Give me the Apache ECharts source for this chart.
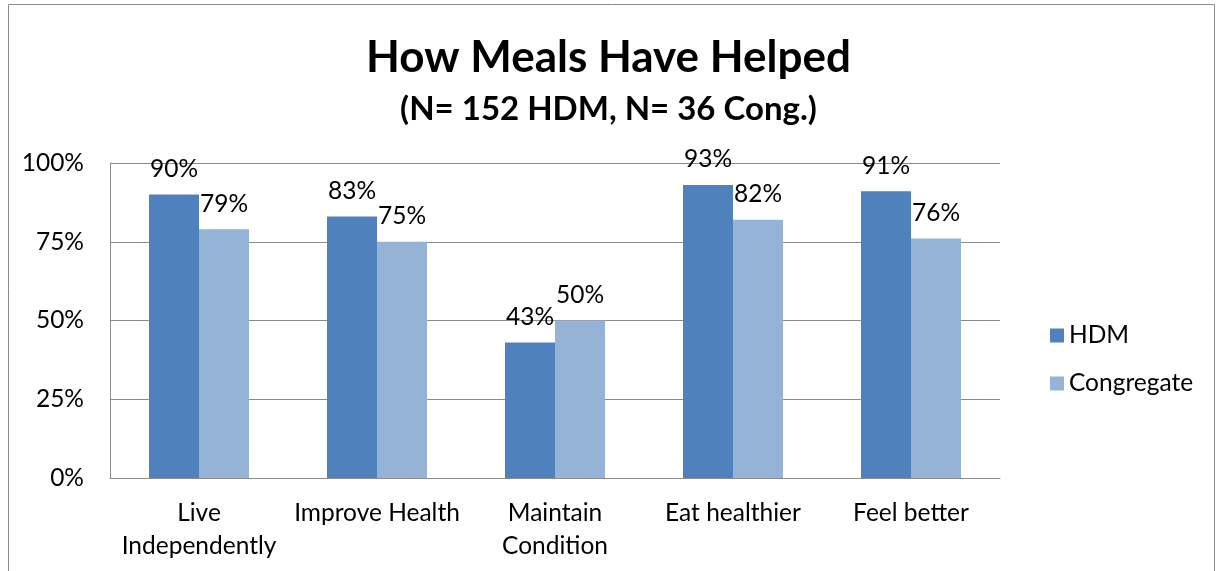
<!DOCTYPE html>
<html>
<head>
<meta charset="utf-8">
<title>How Meals Have Helped</title>
<script src="https://cdn.jsdelivr.net/npm/echarts@6/dist/echarts.min.js"></script>
<style>
  html, body { margin: 0; padding: 0; background: #fff; }
  #chart { width: 1217px; height: 571px; }
</style>
</head>
<body>
<div id="chart"></div>
<script>
// categories and series values (percent)
const categories = ['Live\nIndependently', 'Improve Health', 'Maintain\nCondition', 'Eat healthier', 'Feel better'];
const hdmValues = [90, 83, 43, 93, 91];
const congValues = [79, 75, 50, 82, 76];
const yTicks = [0, 25, 50, 75, 100];

const fontName = 'Lato, "Liberation Sans", sans-serif';
const fs = 24.5;

const chart = echarts.init(document.getElementById('chart'));

const option = {
  backgroundColor: '#fff',
  textStyle: { fontFamily: fontName },
  // outer chart frame
  graphic: [
    {
      type: 'rect',
      shape: { x: 8.5, y: 4.5, width: 1206, height: 580 },
      style: { fill: 'none', stroke: '#8c8c8c', lineWidth: 1 },
      silent: true
    }
  ],
  title: [
    {
      text: 'How Meals Have Helped',
      left: 'center',
      top: 31,
      textStyle: { fontFamily: fontName, fontSize: 44, fontWeight: 'bold', color: '#000' }
    },
    {
      text: '(N= 152 HDM, N= 36 Cong.)',
      left: 'center',
      top: 88,
      textStyle: { fontFamily: fontName, fontSize: 33, fontWeight: 'bold', color: '#000' }
    }
  ],
  legend: {
    orient: 'vertical',
    left: 1045,
    top: 318,
    itemWidth: 14,
    itemHeight: 14,
    itemGap: 23,
    icon: 'rect',
    data: ['HDM', 'Congregate'],
    textStyle: { fontFamily: fontName, fontSize: fs, color: '#000' }
  },
  grid: {
    left: 110,
    right: 217,
    top: 163,
    bottom: 93,
    containLabel: false
  },
  xAxis: {
    type: 'category',
    data: categories,
    axisLine: { lineStyle: { color: '#8c8c8c' } },
    axisTick: { show: false },
    axisLabel: {
      fontFamily: fontName,
      fontSize: fs,
      color: '#000',
      margin: 19,
      lineHeight: 33,
      interval: 0
    }
  },
  yAxis: {
    type: 'value',
    min: 0,
    max: 100,
    interval: 25,
    axisLine: { show: true, lineStyle: { color: '#8c8c8c' } },
    axisTick: { show: false },
    splitLine: { lineStyle: { color: '#8c8c8c' } },
    axisLabel: {
      fontFamily: fontName,
      fontSize: fs,
      color: '#000',
      margin: 26,
      formatter: function (v) { return yTicks.indexOf(v) >= 0 ? v + '%' : ''; }
    }
  },
  series: [
    {
      name: 'HDM',
      type: 'bar',
      data: hdmValues,
      barWidth: 50,
      barGap: '0%',
      itemStyle: { color: '#4f81bd' },
      label: {
        show: true,
        position: 'top',
        distance: 13,
        formatter: '{c}%',
        fontFamily: fontName,
        fontSize: fs,
        color: '#000'
      }
    },
    {
      name: 'Congregate',
      type: 'bar',
      data: congValues,
      barWidth: 50,
      barGap: '0%',
      itemStyle: { color: '#95b3d7' },
      label: {
        show: true,
        position: 'top',
        distance: 13,
        formatter: '{c}%',
        fontFamily: fontName,
        fontSize: fs,
        color: '#000'
      }
    }
  ]
};

chart.setOption(option);
window.onresize = chart.resize;
</script>
</body>
</html>
